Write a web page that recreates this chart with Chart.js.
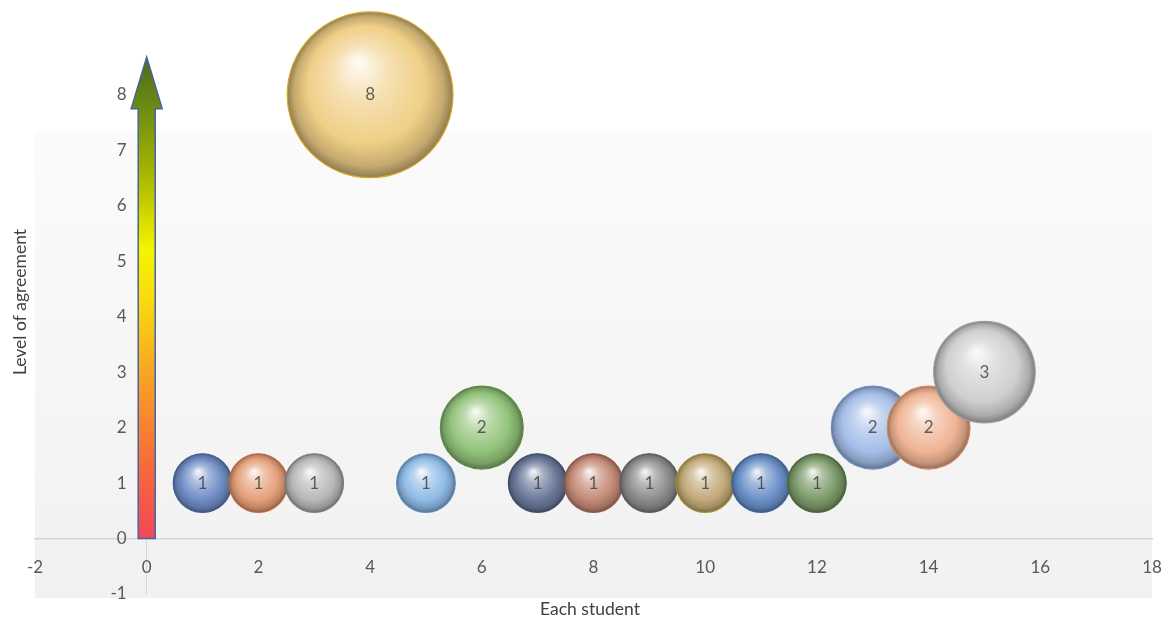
<!DOCTYPE html>
<html>
<head>
<meta charset="utf-8">
<script src="https://cdn.jsdelivr.net/npm/chart.js@4.4.1/dist/chart.umd.min.js"></script>
<style>
  html, body { margin: 0; padding: 0; background: #fff; overflow: hidden; }
  canvas { display: block; }
</style>
</head>
<body>
<canvas id="chart" width="1175" height="625"></canvas>
<script>
// data
const students = [1, 2, 3, 4, 5, 6, 7, 8, 9, 10, 11, 12, 13, 14, 15];
const agreement = [1, 1, 1, 8, 1, 2, 1, 1, 1, 1, 1, 1, 2, 2, 3];
const counts = [1, 1, 1, 8, 1, 2, 1, 1, 1, 1, 1, 1, 2, 2, 3];
const xTicks = [-2, 0, 2, 4, 6, 8, 10, 12, 14, 16, 18];
const yTicks = [-1, 0, 1, 2, 3, 4, 5, 6, 7, 8];

const bubbleColors = [
  '#6f8cc4', '#e5a07a', '#b8b8b8', '#f0cf86', '#8fbbe6',
  '#92c37a', '#6a7898', '#c48a78', '#8c8c8c', '#c2aa78',
  '#6a90c8', '#7c9a6a', '#a4bde8', '#f0b494', '#cfcfcf'
];
const rimColors = [
  '#3e5c96', '#c0683a', '#7c7c7c', '#d6a826', '#5a8cc0',
  '#5c8c40', '#3e4c6c', '#94583e', '#5c5c5c', '#a8902a',
  '#3c64a0', '#4c6a3a', '#6a8cc8', '#d8885c', '#9c9c9c'
];

const FONT = 'Lato, "Open Sans", sans-serif';

function mix(hex, target, t) {
  const a = parseInt(hex.slice(1), 16);
  const r = (a >> 16) & 255, g = (a >> 8) & 255, b = a & 255;
  const m = c => Math.round(c + (target - c) * t);
  return `rgb(${m(r)},${m(g)},${m(b)})`;
}

function radiusFor(n) {
  return 29.3 * Math.sqrt(n);
}

// 3D look for each bubble
function sphere(ctx) {
  if (ctx.type !== 'data') return '#999';
  const i = ctx.dataIndex;
  const base = bubbleColors[i];
  const chart = ctx.chart;
  const cx = chart.scales.x.getPixelForValue(students[i]);
  const cy = chart.scales.y.getPixelForValue(agreement[i]);
  const r = radiusFor(counts[i]);
  if (!isFinite(cx) || !isFinite(cy)) return base;
  const g = chart.ctx.createRadialGradient(cx - r * 0.15, cy - r * 0.4, r * 0.02, cx, cy, r);
  g.addColorStop(0, mix(base, 255, 0.9));
  g.addColorStop(0.3, mix(base, 255, 0.4));
  g.addColorStop(0.7, base);
  g.addColorStop(0.9, mix(base, 0, 0.18));
  g.addColorStop(1, mix(base, 0, 0.4));
  return g;
}

// light gray plot panel
const panelPlugin = {
  id: 'panel',
  beforeDraw(chart) {
    const {ctx, chartArea} = chart;
    const top = chart.scales.y.getPixelForValue(7.35);
    const bottom = chartArea.bottom + 4;
    const g = ctx.createLinearGradient(0, top, 0, bottom);
    g.addColorStop(0, '#fbfbfb');
    g.addColorStop(1, '#f1f1f1');
    ctx.save();
    ctx.fillStyle = g;
    ctx.fillRect(chartArea.left, top, chartArea.right - chartArea.left, bottom - top);
    ctx.restore();
  }
};

// gradient arrow standing on the y axis
const arrowPlugin = {
  id: 'arrow',
  beforeDatasetsDraw(chart) {
    const {ctx} = chart;
    const xs = chart.scales.x, ys = chart.scales.y;
    const cx = xs.getPixelForValue(0);
    const yBase = ys.getPixelForValue(0);
    const yNeck = ys.getPixelForValue(7.75);
    const yTip = ys.getPixelForValue(8.68);
    const shaft = 8.5, head = 15.5;
    const g = ctx.createLinearGradient(0, yBase, 0, yTip);
    g.addColorStop(0, '#f2475a');
    g.addColorStop(0.15, '#f66a3a');
    g.addColorStop(0.35, '#f8a624');
    g.addColorStop(0.5, '#f9dc10');
    g.addColorStop(0.6, '#f6f400');
    g.addColorStop(0.75, '#aab800');
    g.addColorStop(0.9, '#6a8a14');
    g.addColorStop(1, '#4c6a1c');
    ctx.save();
    ctx.beginPath();
    ctx.moveTo(cx - shaft, yBase);
    ctx.lineTo(cx - shaft, yNeck);
    ctx.lineTo(cx - head, yNeck);
    ctx.lineTo(cx, yTip);
    ctx.lineTo(cx + head, yNeck);
    ctx.lineTo(cx + shaft, yNeck);
    ctx.lineTo(cx + shaft, yBase);
    ctx.closePath();
    ctx.fillStyle = g;
    ctx.fill();
    ctx.lineWidth = 1.5;
    ctx.strokeStyle = '#46639a';
    ctx.stroke();
    ctx.restore();
  }
};

// numbers inside bubbles + axis titles
const labelPlugin = {
  id: 'labels',
  afterDatasetsDraw(chart) {
    const {ctx} = chart;
    const meta = chart.getDatasetMeta(0);
    ctx.save();
    ctx.font = '17px ' + FONT;
    ctx.fillStyle = 'rgba(60,60,60,0.8)';
    ctx.textAlign = 'center';
    ctx.textBaseline = 'middle';
    meta.data.forEach((el, i) => {
      ctx.fillText(String(counts[i]), el.x, el.y);
    });

    ctx.fillStyle = '#404040';
    ctx.font = '17.5px ' + FONT;
    ctx.fillText('Each student', 590, 609);
    ctx.translate(20, 302);
    ctx.rotate(-Math.PI / 2);
    ctx.fillText('Level of agreement', 0, 0);
    ctx.restore();
  }
};

const points = students.map((s, i) => ({ x: s, y: agreement[i], r: radiusFor(counts[i]) }));

function noEdgePadding(scale) {
  scale.paddingLeft = 0;
  scale.paddingRight = 0;
  scale.paddingTop = 0;
  scale.paddingBottom = 0;
}

new Chart(document.getElementById('chart'), {
  type: 'bubble',
  data: {
    datasets: [{
      label: 'Students',
      data: points,
      backgroundColor: sphere,
      borderColor: rimColors,
      borderWidth: 1.2,
      clip: false
    }]
  },
  options: {
    responsive: false,
    animation: false,
    events: [],
    layout: {
      autoPadding: false,
      padding: { left: 35, right: 23, top: 56, bottom: 31 }
    },
    plugins: {
      legend: { display: false },
      tooltip: { enabled: false }
    },
    scales: {
      x: {
        type: 'linear',
        min: -2,
        max: 18,
        position: { y: 0 },
        afterBuildTicks: axis => { axis.ticks = xTicks.map(v => ({ value: v })); },
        afterFit: noEdgePadding,
        grid: {
          drawTicks: false,
          color: c => (c.tick && c.tick.value === 0 ? '#d6d6d6' : 'rgba(0,0,0,0)')
        },
        border: { display: true, color: '#d6d6d6', width: 1.5 },
        ticks: { padding: 19, color: '#595959', font: { family: FONT, size: 17 } }
      },
      y: {
        type: 'linear',
        min: -1,
        max: 8.7,
        position: { x: -0.36 },
        afterBuildTicks: axis => { axis.ticks = yTicks.map(v => ({ value: v })); },
        afterFit: noEdgePadding,
        grid: { display: false, drawTicks: false },
        border: { display: false },
        ticks: { padding: 0, color: '#595959', font: { family: FONT, size: 17 } }
      }
    }
  },
  plugins: [panelPlugin, arrowPlugin, labelPlugin]
});
</script>
</body>
</html>
